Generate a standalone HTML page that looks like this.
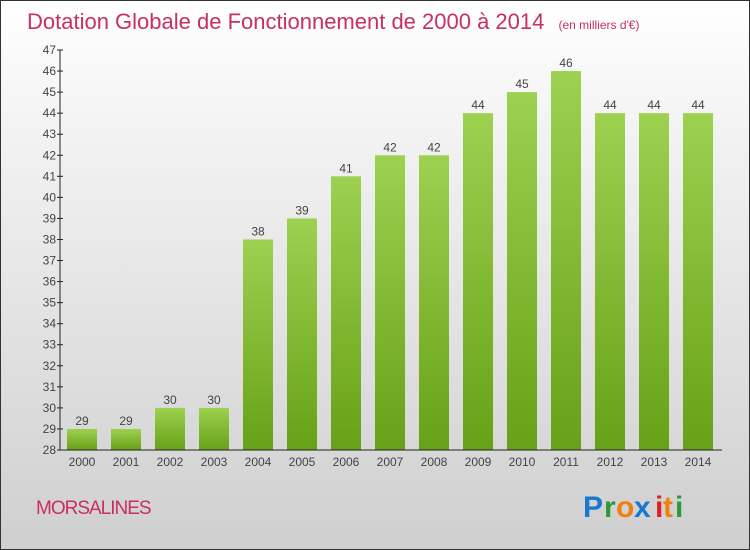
<!DOCTYPE html>
<html><head><meta charset="utf-8"><style>
body{margin:0;width:750px;height:550px;overflow:hidden;font-family:"Liberation Sans",sans-serif}
#wrap{position:absolute;left:0;top:0;width:748px;height:548px;border:1px solid #333;background:linear-gradient(#ffffff,#f2f2f2 25%,#cfcfcf)}
</style></head><body>
<div id="wrap">
<svg id="chart" width="750" height="550" style="position:absolute;left:-1px;top:-1px">
<defs><linearGradient id="g" x1="0" y1="0" x2="0" y2="1"><stop offset="0" stop-color="#9dd151"/><stop offset="1" stop-color="#67a117"/></linearGradient></defs>
<text x="27" y="29" font-size="22" fill="#c8305f">Dotation Globale de Fonctionnement de 2000 à 2014 <tspan font-size="12" dx="8">(en milliers d'€)</tspan></text>
<text x="36" y="514" font-size="19" fill="#c8305f" letter-spacing="-1">MORSALINES</text>
<g font-size="30" font-weight="bold" font-family="Liberation Sans,sans-serif">
<text x="583" y="517" fill="#1a78d0">P</text><text x="604" y="517" fill="#2a9a3a">r</text><text x="616" y="517" fill="#f08010">o</text><text x="634" y="517" fill="#1a78d0">x</text><text x="655" y="517" fill="#e02020">i</text><text x="663" y="517" fill="#f08010">t</text><text x="675" y="517" fill="#2a9a3a">i</text>
</g>
<g id="plot"></g>
</svg></div>
<script>
const years=["2000","2001","2002","2003","2004","2005","2006","2007","2008","2009","2010","2011","2012","2013","2014"];
const values=[29,29,30,30,38,39,41,42,42,44,45,46,44,44,44];
const yTicks=[28,29,30,31,32,33,34,35,36,37,38,39,40,41,42,43,44,45,46,47];
const yMin=28,yMax=47,plotTop=50,plotBot=450;
function y(v){return plotBot-(v-yMin)/(yMax-yMin)*(plotBot-plotTop);}
function x(i){return 82+i*44;}
const ns="http://www.w3.org/2000/svg",g=document.getElementById('plot');
function mk(t,a){const e=document.createElementNS(ns,t);for(const k in a)e.setAttribute(k,a[k]);g.appendChild(e);return e;}
values.forEach((v,i)=>{
 const r=mk('rect',{x:x(i)-15,y:y(v),width:30,height:plotBot-y(v),fill:'url(#g)'});
 
 
 const t=mk('text',{x:x(i),y:y(v)-4,'text-anchor':'middle','font-size':12,fill:'#444'});t.textContent=v;
 
 
 const xl=mk('text',{x:x(i),y:466,'text-anchor':'middle','font-size':12,fill:'#444'});xl.textContent=years[i];
 
 
});
yTicks.forEach(v=>{
 mk('line',{x1:57,x2:63,y1:y(v),y2:y(v),stroke:'#222'});
 const t=mk('text',{x:56,y:y(v)+4,'text-anchor':'end','font-size':12,fill:'#444'});t.textContent=v;
 
 
});
const ya=mk('line',{x1:60,x2:60,y1:plotTop,y2:plotBot,stroke:'#222'});


const xa=mk('line',{x1:60,x2:722,y1:plotBot,y2:plotBot,stroke:'#222'});


</script>
</body></html>
